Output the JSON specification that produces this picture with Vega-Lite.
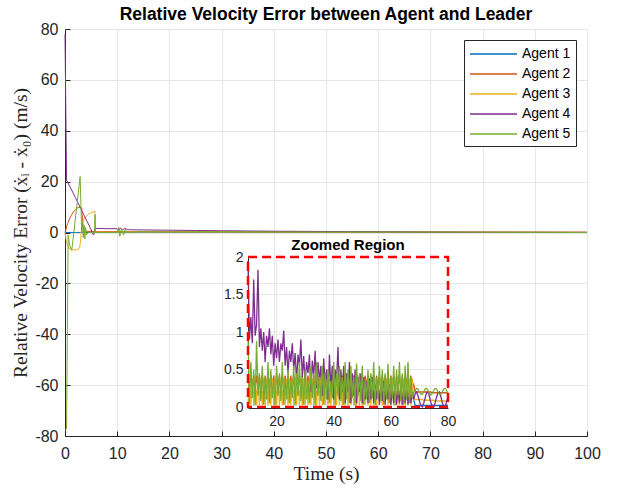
{
  "$schema": "https://vega.github.io/schema/vega-lite/v6.json",
  "width": 522,
  "height": 407,
  "autosize": {"type": "none"},
  "padding": {"left": 65, "top": 29, "right": 31, "bottom": 53},
  "background": "white",
  "title": {"text": "Relative Velocity Error between Agent and Leader", "font": "Liberation Sans", "fontSize": 17.5, "fontWeight": "bold", "color": "black", "offset": -2, "anchor": "middle"},
  "config": {
    "view": {"stroke": null},
    "legend": {"orient": "none", "legendX": 399, "legendY": 11, "fillColor": "white", "strokeColor": "#262626", "padding": 5, "symbolType": "M-2.94,0H2.94", "symbolSize": 256, "symbolOffset": 15.5, "symbolStrokeWidth": 1.5, "labelFont": "Liberation Sans", "labelFontSize": 14, "labelColor": "black", "rowPadding": 4, "labelOffset": 19.5, "cornerRadius": 0}
  },
  "layer": [
    {
      "data": {"values": [
        {"s":"Agent 1","t":0,"v":0},{"s":"Agent 1","t":1,"v":0},{"s":"Agent 1","t":2,"v":0},{"s":"Agent 1","t":3,"v":0.05},{"s":"Agent 1","t":4,"v":0},{"s":"Agent 1","t":6,"v":0.1},{"s":"Agent 1","t":10,"v":0.05},{"s":"Agent 1","t":30,"v":0.05},{"s":"Agent 1","t":60,"v":0.02},{"s":"Agent 1","t":100,"v":0},
        {"s":"Agent 2","t":0,"v":0},{"s":"Agent 2","t":0.5,"v":3.5},{"s":"Agent 2","t":1,"v":6},{"s":"Agent 2","t":1.5,"v":7.8},{"s":"Agent 2","t":2,"v":9},{"s":"Agent 2","t":2.5,"v":9.8},{"s":"Agent 2","t":3,"v":10},{"s":"Agent 2","t":3.2,"v":9.5},{"s":"Agent 2","t":3.4,"v":4},{"s":"Agent 2","t":3.6,"v":0},{"s":"Agent 2","t":4,"v":0.5},{"s":"Agent 2","t":6,"v":0.3},{"s":"Agent 2","t":10,"v":0.4},{"s":"Agent 2","t":30,"v":0.3},{"s":"Agent 2","t":68,"v":0.2},{"s":"Agent 2","t":100,"v":0.1},
        {"s":"Agent 3","t":0,"v":0},{"s":"Agent 3","t":0.3,"v":-4},{"s":"Agent 3","t":0.8,"v":-6.2},{"s":"Agent 3","t":1.5,"v":-6.9},{"s":"Agent 3","t":2.3,"v":-6.8},{"s":"Agent 3","t":2.8,"v":-6},{"s":"Agent 3","t":3,"v":-3},{"s":"Agent 3","t":3.1,"v":0},{"s":"Agent 3","t":3.3,"v":3},{"s":"Agent 3","t":3.5,"v":4.9},{"s":"Agent 3","t":4,"v":6.3},{"s":"Agent 3","t":4.5,"v":7.2},{"s":"Agent 3","t":5,"v":7.8},{"s":"Agent 3","t":5.5,"v":8.2},{"s":"Agent 3","t":5.75,"v":8.4},{"s":"Agent 3","t":5.8,"v":0},{"s":"Agent 3","t":6,"v":0.1},{"s":"Agent 3","t":10,"v":0.2},{"s":"Agent 3","t":40,"v":0.2},{"s":"Agent 3","t":100,"v":0.1},
        {"s":"Agent 4","t":0,"v":78},{"s":"Agent 4","t":0.3,"v":20.6},{"s":"Agent 4","t":1,"v":17.8},{"s":"Agent 4","t":2,"v":13.7},{"s":"Agent 4","t":3,"v":9.5},{"s":"Agent 4","t":4,"v":5.3},{"s":"Agent 4","t":5,"v":1.2},{"s":"Agent 4","t":5.3,"v":-0.5},{"s":"Agent 4","t":5.5,"v":-1},{"s":"Agent 4","t":5.75,"v":1.6},{"s":"Agent 4","t":8,"v":1.5},{"s":"Agent 4","t":10,"v":1.5},{"s":"Agent 4","t":10.3,"v":0.8},{"s":"Agent 4","t":10.6,"v":1.8},{"s":"Agent 4","t":11,"v":1},{"s":"Agent 4","t":11.5,"v":1.6},{"s":"Agent 4","t":12,"v":1.1},{"s":"Agent 4","t":15,"v":1},{"s":"Agent 4","t":20,"v":0.9},{"s":"Agent 4","t":25,"v":0.8},{"s":"Agent 4","t":30,"v":0.7},{"s":"Agent 4","t":35,"v":0.6},{"s":"Agent 4","t":40,"v":0.5},{"s":"Agent 4","t":50,"v":0.4},{"s":"Agent 4","t":60,"v":0.3},{"s":"Agent 4","t":70,"v":0.15},{"s":"Agent 4","t":80,"v":0.1},{"s":"Agent 4","t":100,"v":0.05},
        {"s":"Agent 5","t":0,"v":-78},{"s":"Agent 5","t":0.3,"v":-77},{"s":"Agent 5","t":0.6,"v":-1},{"s":"Agent 5","t":0.9,"v":-5},{"s":"Agent 5","t":1.3,"v":-7},{"s":"Agent 5","t":2.9,"v":22},{"s":"Agent 5","t":3.2,"v":0},{"s":"Agent 5","t":3.35,"v":4},{"s":"Agent 5","t":3.5,"v":-2},{"s":"Agent 5","t":3.65,"v":3},{"s":"Agent 5","t":3.8,"v":-2.5},{"s":"Agent 5","t":3.95,"v":2},{"s":"Agent 5","t":4.1,"v":-1},{"s":"Agent 5","t":4.5,"v":0},{"s":"Agent 5","t":5.7,"v":0},{"s":"Agent 5","t":5.75,"v":7},{"s":"Agent 5","t":5.8,"v":0},{"s":"Agent 5","t":8,"v":0},{"s":"Agent 5","t":10,"v":0.1},{"s":"Agent 5","t":10.3,"v":2},{"s":"Agent 5","t":10.5,"v":-1.5},{"s":"Agent 5","t":10.8,"v":1.5},{"s":"Agent 5","t":11.2,"v":-1},{"s":"Agent 5","t":11.5,"v":1.2},{"s":"Agent 5","t":12,"v":0},{"s":"Agent 5","t":14,"v":0.3},{"s":"Agent 5","t":20,"v":0.2},{"s":"Agent 5","t":30,"v":0.3},{"s":"Agent 5","t":40,"v":0.2},{"s":"Agent 5","t":60,"v":0.2},{"s":"Agent 5","t":100,"v":0}
      ]},
      "mark": {"type": "line", "strokeWidth": 1},
      "encoding": {
        "x": {"field": "t", "type": "quantitative", "scale": {"domain": [0, 100], "nice": false, "zero": false},
          "axis": {"values": [0,10,20,30,40,50,60,70,80,90,100], "labelFlush": false, "grid": true, "gridColor": "#e6e6e6", "domainColor": "#262626", "tickColor": "#262626", "tickSize": -5, "labelPadding": 14, "labelFont": "Liberation Sans", "labelFontSize": 16, "labelColor": "#262626", "title": "Time (s)", "titleFont": "Liberation Serif", "titleFontSize": 19.5, "titleFontWeight": "normal", "titleColor": "#262626", "titlePadding": 3}},
        "y": {"field": "v", "type": "quantitative", "scale": {"domain": [-80, 80], "nice": false, "zero": false},
          "axis": {"values": [-80,-60,-40,-20,0,20,40,60,80], "labelFlush": false, "labelExpr": "toString(datum.value)", "grid": true, "gridColor": "#e6e6e6", "domainColor": "#262626", "tickColor": "#262626", "tickSize": -5, "labelPadding": 12, "labelFont": "Liberation Sans", "labelFontSize": 16, "labelColor": "#262626", "title": "Relative Velocity Error (ẋᵢ - ẋ₀) (m/s)", "titleFont": "Liberation Serif", "titleFontSize": 19.5, "titleFontWeight": "normal", "titleColor": "#262626", "titleX": -45, "titleBaseline": "middle"}},
        "color": {"field": "s", "type": "nominal", "title": null, "scale": {"domain": ["Agent 1","Agent 2","Agent 3","Agent 4","Agent 5"], "range": ["#0072BD","#D95319","#EDB120","#7E2F8E","#77AC30"]}}
      }
    },
    {
      "layer": [
        {
          "data": {"values": [{"g": 20}, {"g": 40}, {"g": 60}]},
          "mark": {"type": "rule", "color": "#e6e6e6", "strokeWidth": 1},
          "encoding": {
            "x": {"field": "g", "type": "quantitative", "scale": {"domain": [10, 80], "range": [183, 383], "nice": false, "zero": false},
              "axis": {"orient": "bottom", "offset": -28, "values": [20,40,60,80], "labelFlush": false, "grid": false, "ticks": false, "domainColor": "#262626", "labelPadding": 6, "labelFont": "Liberation Sans", "labelFontSize": 14, "labelColor": "#262626", "title": null}},
            "y": {"datum": 0, "type": "quantitative", "scale": {"domain": [0, 2], "range": [378, 228], "nice": false, "zero": false},
              "axis": {"orient": "left", "offset": -183, "values": [0,0.5,1,1.5,2], "labelFlush": false, "format": "~g", "grid": false, "ticks": false, "domainColor": "#262626", "labelPadding": 5, "labelFont": "Liberation Sans", "labelFontSize": 14, "labelColor": "#262626", "title": null}},
            "y2": {"datum": 2}
          }
        },
        {
          "data": {"values": [{"g": 0.5}, {"g": 1}, {"g": 1.5}]},
          "mark": {"type": "rule", "color": "#e6e6e6", "strokeWidth": 1},
          "encoding": {
            "y": {"field": "g", "type": "quantitative",
              "axis": {"orient": "left", "offset": -183, "values": [0,0.5,1,1.5,2], "labelFlush": false, "format": "~g", "grid": false, "ticks": false, "domainColor": "#262626", "labelPadding": 5, "labelFont": "Liberation Sans", "labelFontSize": 14, "labelColor": "#262626", "title": null}},
            "x": {"datum": 10, "type": "quantitative",
              "axis": {"orient": "bottom", "offset": -28, "values": [20,40,60,80], "labelFlush": false, "grid": false, "ticks": false, "domainColor": "#262626", "labelPadding": 6, "labelFont": "Liberation Sans", "labelFontSize": 14, "labelColor": "#262626", "title": null}},
            "x2": {"datum": 80}
          }
        },
        {
          "data": {"values": [
            {"t":10,"Agent 1":0.2,"Agent 2":0.42,"Agent 3":0.02,"Agent 4":1.95,"Agent 5":0.95},
            {"t":10.5,"Agent 1":0.19,"Agent 2":0.25,"Agent 3":0.38,"Agent 4":0.9,"Agent 5":0.05},
            {"t":11,"Agent 1":0.2,"Agent 2":0.42,"Agent 3":0.02,"Agent 4":1.2,"Agent 5":0.6},
            {"t":11.5,"Agent 1":0.19,"Agent 2":0.25,"Agent 3":0.38,"Agent 4":0.85,"Agent 5":0.12},
            {"t":12,"Agent 1":0.2,"Agent 2":0.42,"Agent 3":0.02,"Agent 4":1.7,"Agent 5":0.5},
            {"t":12.5,"Agent 1":0.19,"Agent 2":0.25,"Agent 3":0.38,"Agent 4":0.95,"Agent 5":0.02},
            {"t":13,"Agent 1":0.2,"Agent 2":0.42,"Agent 3":0.02,"Agent 4":1.1,"Agent 5":0.88},
            {"t":13.5,"Agent 1":0.19,"Agent 2":0.25,"Agent 3":0.38,"Agent 4":1.83,"Agent 5":0.15},
            {"t":14,"Agent 1":0.2,"Agent 2":0.42,"Agent 3":0.02,"Agent 4":0.8,"Agent 5":0.45},
            {"t":14.5,"Agent 1":0.19,"Agent 2":0.25,"Agent 3":0.38,"Agent 4":1.05,"Agent 5":0.08},
            {"t":15,"Agent 1":0.2,"Agent 2":0.42,"Agent 3":0.02,"Agent 4":0.75,"Agent 5":0.55},
            {"t":15.5,"Agent 1":0.19,"Agent 2":0.25,"Agent 3":0.38,"Agent 4":1.0,"Agent 5":0.03},
            {"t":16,"Agent 1":0.2,"Agent 2":0.42,"Agent 3":0.02,"Agent 4":0.6,"Agent 5":0.4},
            {"t":16.5,"Agent 1":0.19,"Agent 2":0.25,"Agent 3":0.38,"Agent 4":0.95,"Agent 5":0.1},
            {"t":17,"Agent 1":0.2,"Agent 2":0.42,"Agent 3":0.02,"Agent 4":0.8,"Agent 5":0.6},
            {"t":17.5,"Agent 1":0.19,"Agent 2":0.25,"Agent 3":0.38,"Agent 4":1.05,"Agent 5":0.05},
            {"t":18,"Agent 1":0.2,"Agent 2":0.42,"Agent 3":0.02,"Agent 4":0.7,"Agent 5":0.5},
            {"t":18.5,"Agent 1":0.19,"Agent 2":0.25,"Agent 3":0.38,"Agent 4":0.95,"Agent 5":0.12},
            {"t":19,"Agent 1":0.2,"Agent 2":0.42,"Agent 3":0.02,"Agent 4":0.55,"Agent 5":0.35},
            {"t":19.5,"Agent 1":0.19,"Agent 2":0.25,"Agent 3":0.38,"Agent 4":0.85,"Agent 5":0.02},
            {"t":20,"Agent 1":0.2,"Agent 2":0.42,"Agent 3":0.02,"Agent 4":0.65,"Agent 5":0.55},
            {"t":20.5,"Agent 1":0.19,"Agent 2":0.25,"Agent 3":0.38,"Agent 4":0.9,"Agent 5":0.15},
            {"t":21,"Agent 1":0.2,"Agent 2":0.42,"Agent 3":0.02,"Agent 4":0.6,"Agent 5":0.45},
            {"t":21.5,"Agent 1":0.19,"Agent 2":0.25,"Agent 3":0.38,"Agent 4":0.85,"Agent 5":0.08},
            {"t":22,"Agent 1":0.2,"Agent 2":0.42,"Agent 3":0.02,"Agent 4":0.75,"Agent 5":0.6},
            {"t":22.5,"Agent 1":0.19,"Agent 2":0.25,"Agent 3":0.38,"Agent 4":1.02,"Agent 5":0.03},
            {"t":23,"Agent 1":0.2,"Agent 2":0.42,"Agent 3":0.02,"Agent 4":0.55,"Agent 5":0.4},
            {"t":23.5,"Agent 1":0.19,"Agent 2":0.25,"Agent 3":0.38,"Agent 4":0.8,"Agent 5":0.1},
            {"t":24,"Agent 1":0.2,"Agent 2":0.42,"Agent 3":0.02,"Agent 4":0.45,"Agent 5":0.5},
            {"t":24.5,"Agent 1":0.19,"Agent 2":0.25,"Agent 3":0.38,"Agent 4":0.75,"Agent 5":0.05},
            {"t":25,"Agent 1":0.2,"Agent 2":0.42,"Agent 3":0.02,"Agent 4":0.6,"Agent 5":0.35},
            {"t":25.5,"Agent 1":0.19,"Agent 2":0.25,"Agent 3":0.38,"Agent 4":0.85,"Agent 5":0.12},
            {"t":26,"Agent 1":0.2,"Agent 2":0.42,"Agent 3":0.02,"Agent 4":0.5,"Agent 5":0.55},
            {"t":26.5,"Agent 1":0.19,"Agent 2":0.25,"Agent 3":0.38,"Agent 4":0.72,"Agent 5":0.02},
            {"t":27,"Agent 1":0.2,"Agent 2":0.42,"Agent 3":0.02,"Agent 4":0.35,"Agent 5":0.45},
            {"t":27.5,"Agent 1":0.19,"Agent 2":0.25,"Agent 3":0.38,"Agent 4":0.7,"Agent 5":0.15},
            {"t":28,"Agent 1":0.2,"Agent 2":0.42,"Agent 3":0.02,"Agent 4":0.55,"Agent 5":0.6},
            {"t":28.5,"Agent 1":0.19,"Agent 2":0.25,"Agent 3":0.38,"Agent 4":0.9,"Agent 5":0.08},
            {"t":29,"Agent 1":0.2,"Agent 2":0.42,"Agent 3":0.02,"Agent 4":0.4,"Agent 5":0.4},
            {"t":29.5,"Agent 1":0.19,"Agent 2":0.25,"Agent 3":0.38,"Agent 4":0.68,"Agent 5":0.03},
            {"t":30,"Agent 1":0.2,"Agent 2":0.42,"Agent 3":0.02,"Agent 4":0.3,"Agent 5":0.5},
            {"t":30.5,"Agent 1":0.19,"Agent 2":0.25,"Agent 3":0.38,"Agent 4":0.6,"Agent 5":0.1},
            {"t":31,"Agent 1":0.2,"Agent 2":0.42,"Agent 3":0.02,"Agent 4":0.45,"Agent 5":0.35},
            {"t":31.5,"Agent 1":0.19,"Agent 2":0.25,"Agent 3":0.38,"Agent 4":0.7,"Agent 5":0.05},
            {"t":32,"Agent 1":0.2,"Agent 2":0.42,"Agent 3":0.02,"Agent 4":0.2,"Agent 5":0.55},
            {"t":32.5,"Agent 1":0.19,"Agent 2":0.25,"Agent 3":0.38,"Agent 4":0.62,"Agent 5":0.12},
            {"t":33,"Agent 1":0.2,"Agent 2":0.42,"Agent 3":0.02,"Agent 4":0.4,"Agent 5":0.45},
            {"t":33.5,"Agent 1":0.19,"Agent 2":0.25,"Agent 3":0.38,"Agent 4":0.75,"Agent 5":0.02},
            {"t":34,"Agent 1":0.2,"Agent 2":0.42,"Agent 3":0.02,"Agent 4":0.25,"Agent 5":0.6},
            {"t":34.5,"Agent 1":0.19,"Agent 2":0.25,"Agent 3":0.38,"Agent 4":0.6,"Agent 5":0.15},
            {"t":35,"Agent 1":0.2,"Agent 2":0.42,"Agent 3":0.02,"Agent 4":0.35,"Agent 5":0.4},
            {"t":35.5,"Agent 1":0.19,"Agent 2":0.25,"Agent 3":0.38,"Agent 4":0.55,"Agent 5":0.08},
            {"t":36,"Agent 1":0.2,"Agent 2":0.42,"Agent 3":0.02,"Agent 4":0.15,"Agent 5":0.55},
            {"t":36.5,"Agent 1":0.19,"Agent 2":0.25,"Agent 3":0.38,"Agent 4":0.65,"Agent 5":0.03},
            {"t":37,"Agent 1":0.2,"Agent 2":0.42,"Agent 3":0.02,"Agent 4":0.3,"Agent 5":0.45},
            {"t":37.5,"Agent 1":0.19,"Agent 2":0.25,"Agent 3":0.38,"Agent 4":0.5,"Agent 5":0.1},
            {"t":38,"Agent 1":0.2,"Agent 2":0.42,"Agent 3":0.02,"Agent 4":0.1,"Agent 5":0.5},
            {"t":38.5,"Agent 1":0.19,"Agent 2":0.25,"Agent 3":0.38,"Agent 4":0.7,"Agent 5":0.05},
            {"t":39,"Agent 1":0.2,"Agent 2":0.42,"Agent 3":0.02,"Agent 4":0.25,"Agent 5":0.35},
            {"t":39.5,"Agent 1":0.19,"Agent 2":0.25,"Agent 3":0.38,"Agent 4":0.55,"Agent 5":0.12},
            {"t":40,"Agent 1":0.2,"Agent 2":0.42,"Agent 3":0.02,"Agent 4":0.1,"Agent 5":0.6},
            {"t":40.5,"Agent 1":0.19,"Agent 2":0.25,"Agent 3":0.38,"Agent 4":0.5,"Agent 5":0.02},
            {"t":41,"Agent 1":0.2,"Agent 2":0.42,"Agent 3":0.02,"Agent 4":0.35,"Agent 5":0.45},
            {"t":41.5,"Agent 1":0.19,"Agent 2":0.25,"Agent 3":0.38,"Agent 4":0.8,"Agent 5":0.15},
            {"t":42,"Agent 1":0.2,"Agent 2":0.42,"Agent 3":0.02,"Agent 4":0.1,"Agent 5":0.55},
            {"t":42.5,"Agent 1":0.19,"Agent 2":0.25,"Agent 3":0.38,"Agent 4":0.5,"Agent 5":0.08},
            {"t":43,"Agent 1":0.2,"Agent 2":0.42,"Agent 3":0.02,"Agent 4":0.2,"Agent 5":0.4},
            {"t":43.5,"Agent 1":0.19,"Agent 2":0.25,"Agent 3":0.38,"Agent 4":0.55,"Agent 5":0.03},
            {"t":44,"Agent 1":0.2,"Agent 2":0.42,"Agent 3":0.02,"Agent 4":0.05,"Agent 5":0.6},
            {"t":44.5,"Agent 1":0.19,"Agent 2":0.25,"Agent 3":0.38,"Agent 4":0.45,"Agent 5":0.1},
            {"t":45,"Agent 1":0.2,"Agent 2":0.42,"Agent 3":0.02,"Agent 4":0.2,"Agent 5":0.5},
            {"t":45.5,"Agent 1":0.19,"Agent 2":0.25,"Agent 3":0.38,"Agent 4":0.6,"Agent 5":0.05},
            {"t":46,"Agent 1":0.2,"Agent 2":0.42,"Agent 3":0.02,"Agent 4":0.05,"Agent 5":0.55},
            {"t":46.5,"Agent 1":0.19,"Agent 2":0.25,"Agent 3":0.38,"Agent 4":0.45,"Agent 5":0.12},
            {"t":47,"Agent 1":0.2,"Agent 2":0.42,"Agent 3":0.02,"Agent 4":0.15,"Agent 5":0.4},
            {"t":47.5,"Agent 1":0.19,"Agent 2":0.25,"Agent 3":0.38,"Agent 4":0.5,"Agent 5":0.02},
            {"t":48,"Agent 1":0.2,"Agent 2":0.42,"Agent 3":0.02,"Agent 4":0.05,"Agent 5":0.58},
            {"t":48.5,"Agent 1":0.19,"Agent 2":0.25,"Agent 3":0.38,"Agent 4":0.4,"Agent 5":0.15},
            {"t":49,"Agent 1":0.2,"Agent 2":0.42,"Agent 3":0.02,"Agent 4":0.2,"Agent 5":0.45},
            {"t":49.5,"Agent 1":0.19,"Agent 2":0.25,"Agent 3":0.38,"Agent 4":0.45,"Agent 5":0.08},
            {"t":50,"Agent 1":0.2,"Agent 2":0.42,"Agent 3":0.02,"Agent 4":0.05,"Agent 5":0.55},
            {"t":50.5,"Agent 1":0.19,"Agent 2":0.25,"Agent 3":0.38,"Agent 4":0.4,"Agent 5":0.03},
            {"t":51,"Agent 1":0.2,"Agent 2":0.42,"Agent 3":0.02,"Agent 4":0.1,"Agent 5":0.35},
            {"t":51.5,"Agent 1":0.19,"Agent 2":0.25,"Agent 3":0.38,"Agent 4":0.35,"Agent 5":0.1},
            {"t":52,"Agent 1":0.2,"Agent 2":0.42,"Agent 3":0.02,"Agent 4":0.05,"Agent 5":0.5},
            {"t":52.5,"Agent 1":0.19,"Agent 2":0.25,"Agent 3":0.38,"Agent 4":0.38,"Agent 5":0.05},
            {"t":53,"Agent 1":0.2,"Agent 2":0.42,"Agent 3":0.02,"Agent 4":0.1,"Agent 5":0.45},
            {"t":53.5,"Agent 1":0.19,"Agent 2":0.25,"Agent 3":0.38,"Agent 4":0.4,"Agent 5":0.12},
            {"t":54,"Agent 1":0.2,"Agent 2":0.42,"Agent 3":0.02,"Agent 4":0.05,"Agent 5":0.6},
            {"t":54.5,"Agent 1":0.19,"Agent 2":0.25,"Agent 3":0.38,"Agent 4":0.3,"Agent 5":0.02},
            {"t":55,"Agent 1":0.2,"Agent 2":0.42,"Agent 3":0.02,"Agent 4":0.1,"Agent 5":0.4},
            {"t":55.5,"Agent 1":0.19,"Agent 2":0.25,"Agent 3":0.38,"Agent 4":0.35,"Agent 5":0.15},
            {"t":56,"Agent 1":0.2,"Agent 2":0.42,"Agent 3":0.02,"Agent 4":0.03,"Agent 5":0.55},
            {"t":56.5,"Agent 1":0.19,"Agent 2":0.25,"Agent 3":0.38,"Agent 4":0.3,"Agent 5":0.08},
            {"t":57,"Agent 1":0.2,"Agent 2":0.42,"Agent 3":0.02,"Agent 4":0.08,"Agent 5":0.5},
            {"t":57.5,"Agent 1":0.19,"Agent 2":0.25,"Agent 3":0.38,"Agent 4":0.35,"Agent 5":0.03},
            {"t":58,"Agent 1":0.2,"Agent 2":0.42,"Agent 3":0.02,"Agent 4":0.03,"Agent 5":0.45},
            {"t":58.5,"Agent 1":0.19,"Agent 2":0.25,"Agent 3":0.38,"Agent 4":0.28,"Agent 5":0.1},
            {"t":59,"Agent 1":0.2,"Agent 2":0.42,"Agent 3":0.02,"Agent 4":0.1,"Agent 5":0.58},
            {"t":59.5,"Agent 1":0.19,"Agent 2":0.25,"Agent 3":0.38,"Agent 4":0.3,"Agent 5":0.05},
            {"t":60,"Agent 1":0.2,"Agent 2":0.42,"Agent 3":0.02,"Agent 4":0.03,"Agent 5":0.4},
            {"t":60.5,"Agent 1":0.19,"Agent 2":0.25,"Agent 3":0.38,"Agent 4":0.25,"Agent 5":0.12},
            {"t":61,"Agent 1":0.2,"Agent 2":0.42,"Agent 3":0.02,"Agent 4":0.05,"Agent 5":0.55},
            {"t":61.5,"Agent 1":0.19,"Agent 2":0.25,"Agent 3":0.38,"Agent 4":0.3,"Agent 5":0.02},
            {"t":62,"Agent 1":0.2,"Agent 2":0.42,"Agent 3":0.02,"Agent 4":0.03,"Agent 5":0.5},
            {"t":62.5,"Agent 1":0.19,"Agent 2":0.25,"Agent 3":0.38,"Agent 4":0.25,"Agent 5":0.15},
            {"t":63,"Agent 1":0.2,"Agent 2":0.42,"Agent 3":0.02,"Agent 4":0.05,"Agent 5":0.6},
            {"t":63.5,"Agent 1":0.19,"Agent 2":0.25,"Agent 3":0.38,"Agent 4":0.28,"Agent 5":0.08},
            {"t":64,"Agent 1":0.2,"Agent 2":0.42,"Agent 3":0.02,"Agent 4":0.03,"Agent 5":0.45},
            {"t":64.5,"Agent 1":0.19,"Agent 2":0.25,"Agent 3":0.38,"Agent 4":0.22,"Agent 5":0.03},
            {"t":65,"Agent 1":0.2,"Agent 2":0.42,"Agent 3":0.02,"Agent 4":0.05,"Agent 5":0.55},
            {"t":65.5,"Agent 1":0.19,"Agent 2":0.25,"Agent 3":0.38,"Agent 4":0.25,"Agent 5":0.1},
            {"t":66,"Agent 1":0.2,"Agent 2":0.42,"Agent 3":0.02,"Agent 4":0.03,"Agent 5":0.6},
            {"t":66.5,"Agent 1":0.19,"Agent 2":0.25,"Agent 3":0.38,"Agent 4":0.2,"Agent 5":0.05},
            {"t":67,"Agent 1":0.2,"Agent 2":0.42,"Agent 3":0.02,"Agent 4":0.05,"Agent 5":0.4},
            {"t":67.5,"Agent 1":0.19,"Agent 2":0.25,"Agent 3":0.38,"Agent 4":0.18,"Agent 5":0.12},
            {"t":68,"Agent 1":0.1,"Agent 2":0.3,"Agent 3":0.1,"Agent 4":0.1,"Agent 5":0.2},
            {"t":68.5,"Agent 1":0.02,"Agent 2":0.2,"Agent 3":0.1,"Agent 4":0.18,"Agent 5":0.22},
            {"t":69,"Agent 1":0.02,"Agent 2":0.2,"Agent 3":0.1,"Agent 4":0.2,"Agent 5":0.25},
            {"t":69.5,"Agent 1":0.02,"Agent 2":0.2,"Agent 3":0.1,"Agent 4":0.15,"Agent 5":0.24},
            {"t":70,"Agent 1":0.02,"Agent 2":0.2,"Agent 3":0.1,"Agent 4":0.08,"Agent 5":0.2},
            {"t":70.5,"Agent 1":0.02,"Agent 2":0.2,"Agent 3":0.1,"Agent 4":0.02,"Agent 5":0.17},
            {"t":71,"Agent 1":0.02,"Agent 2":0.2,"Agent 3":0.1,"Agent 4":0.0,"Agent 5":0.17},
            {"t":71.5,"Agent 1":0.02,"Agent 2":0.2,"Agent 3":0.09,"Agent 4":0.05,"Agent 5":0.2},
            {"t":72,"Agent 1":0.02,"Agent 2":0.2,"Agent 3":0.09,"Agent 4":0.12,"Agent 5":0.24},
            {"t":72.5,"Agent 1":0.02,"Agent 2":0.2,"Agent 3":0.09,"Agent 4":0.19,"Agent 5":0.25},
            {"t":73,"Agent 1":0.02,"Agent 2":0.2,"Agent 3":0.09,"Agent 4":0.2,"Agent 5":0.22},
            {"t":73.5,"Agent 1":0.02,"Agent 2":0.2,"Agent 3":0.09,"Agent 4":0.14,"Agent 5":0.18},
            {"t":74,"Agent 1":0.02,"Agent 2":0.2,"Agent 3":0.09,"Agent 4":0.06,"Agent 5":0.16},
            {"t":74.5,"Agent 1":0.02,"Agent 2":0.19,"Agent 3":0.09,"Agent 4":0.01,"Agent 5":0.18},
            {"t":75,"Agent 1":0.02,"Agent 2":0.19,"Agent 3":0.09,"Agent 4":0.0,"Agent 5":0.22},
            {"t":75.5,"Agent 1":0.02,"Agent 2":0.19,"Agent 3":0.08,"Agent 4":0.06,"Agent 5":0.25},
            {"t":76,"Agent 1":0.02,"Agent 2":0.19,"Agent 3":0.08,"Agent 4":0.13,"Agent 5":0.24},
            {"t":76.5,"Agent 1":0.02,"Agent 2":0.19,"Agent 3":0.08,"Agent 4":0.19,"Agent 5":0.2},
            {"t":77,"Agent 1":0.02,"Agent 2":0.19,"Agent 3":0.08,"Agent 4":0.2,"Agent 5":0.17},
            {"t":77.5,"Agent 1":0.02,"Agent 2":0.19,"Agent 3":0.08,"Agent 4":0.14,"Agent 5":0.17},
            {"t":78,"Agent 1":0.02,"Agent 2":0.19,"Agent 3":0.08,"Agent 4":0.06,"Agent 5":0.2},
            {"t":78.5,"Agent 1":0.02,"Agent 2":0.19,"Agent 3":0.08,"Agent 4":0.01,"Agent 5":0.24},
            {"t":79,"Agent 1":0.02,"Agent 2":0.19,"Agent 3":0.08,"Agent 4":0.0,"Agent 5":0.25},
            {"t":79.5,"Agent 1":0.02,"Agent 2":0.19,"Agent 3":0.08,"Agent 4":0.07,"Agent 5":0.22},
            {"t":80,"Agent 1":0.02,"Agent 2":0.19,"Agent 3":0.08,"Agent 4":0.14,"Agent 5":0.18}
          ]},
          "transform": [{"fold": ["Agent 1","Agent 2","Agent 3","Agent 4","Agent 5"], "as": ["s", "v"]}],
          "mark": {"type": "line", "strokeWidth": 1.3},
          "encoding": {
            "x": {"field": "t", "type": "quantitative",
              "axis": {"orient": "bottom", "offset": -28, "values": [20,40,60,80], "labelFlush": false, "grid": false, "ticks": false, "domainColor": "#262626", "labelPadding": 6, "labelFont": "Liberation Sans", "labelFontSize": 14, "labelColor": "#262626", "title": null}},
            "y": {"field": "v", "type": "quantitative",
              "axis": {"orient": "left", "offset": -183, "values": [0,0.5,1,1.5,2], "labelFlush": false, "format": "~g", "grid": false, "ticks": false, "domainColor": "#262626", "labelPadding": 5, "labelFont": "Liberation Sans", "labelFontSize": 14, "labelColor": "#262626", "title": null}},
            "color": {"field": "s", "type": "nominal"}
          }
        },
        {
          "data": {"values": [{}]},
          "mark": {"type": "rect", "fill": null, "fillOpacity": 0, "stroke": "#ff0000", "strokeWidth": 2.5, "strokeDash": [9, 5]},
          "encoding": {
            "x": {"datum": 10, "type": "quantitative",
              "axis": {"orient": "bottom", "offset": -28, "values": [20,40,60,80], "labelFlush": false, "grid": false, "ticks": false, "domainColor": "#262626", "labelPadding": 6, "labelFont": "Liberation Sans", "labelFontSize": 14, "labelColor": "#262626", "title": null}},
            "x2": {"datum": 80},
            "y": {"datum": 0, "type": "quantitative",
              "axis": {"orient": "left", "offset": -183, "values": [0,0.5,1,1.5,2], "labelFlush": false, "format": "~g", "grid": false, "ticks": false, "domainColor": "#262626", "labelPadding": 5, "labelFont": "Liberation Sans", "labelFontSize": 14, "labelColor": "#262626", "title": null}},
            "y2": {"datum": 2}
          }
        },
        {
          "data": {"values": [{}]},
          "mark": {"type": "text", "text": "Zoomed Region", "font": "Liberation Sans", "fontSize": 15, "fontWeight": "bold", "color": "black", "baseline": "alphabetic", "align": "center", "dy": -7},
          "encoding": {
            "x": {"datum": 45, "type": "quantitative",
              "axis": {"orient": "bottom", "offset": -28, "values": [20,40,60,80], "labelFlush": false, "grid": false, "ticks": false, "domainColor": "#262626", "labelPadding": 6, "labelFont": "Liberation Sans", "labelFontSize": 14, "labelColor": "#262626", "title": null}},
            "y": {"datum": 2, "type": "quantitative",
              "axis": {"orient": "left", "offset": -183, "values": [0,0.5,1,1.5,2], "labelFlush": false, "format": "~g", "grid": false, "ticks": false, "domainColor": "#262626", "labelPadding": 5, "labelFont": "Liberation Sans", "labelFontSize": 14, "labelColor": "#262626", "title": null}}
          }
        }
      ]
    }
  ],
  "resolve": {"scale": {"x": "independent", "y": "independent"}, "axis": {"x": "independent", "y": "independent"}}
}
